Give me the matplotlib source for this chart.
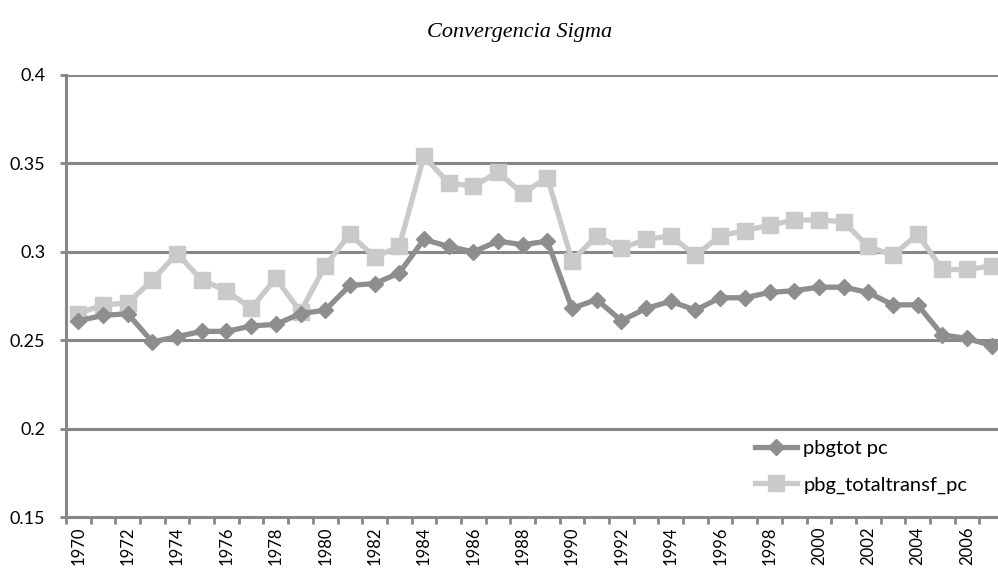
import numpy as np
import matplotlib.pyplot as plt

# data
years = np.arange(1970, 2008)
pbgtot_pc = [0.261, 0.264, 0.265, 0.249, 0.252, 0.255, 0.255, 0.258, 0.259, 0.265,
             0.267, 0.281, 0.282, 0.288, 0.307, 0.303, 0.300, 0.306, 0.304, 0.306,
             0.268, 0.273, 0.261, 0.268, 0.272, 0.267, 0.274, 0.274, 0.277, 0.278,
             0.280, 0.280, 0.277, 0.270, 0.270, 0.253, 0.251, 0.247]
pbg_totaltransf_pc = [0.265, 0.270, 0.271, 0.284, 0.299, 0.284, 0.278, 0.268, 0.285, 0.266,
                      0.292, 0.310, 0.297, 0.303, 0.354, 0.339, 0.337, 0.345, 0.333, 0.342,
                      0.295, 0.309, 0.302, 0.307, 0.309, 0.298, 0.309, 0.312, 0.315, 0.318,
                      0.318, 0.317, 0.303, 0.298, 0.310, 0.290, 0.290, 0.292]
yticks = [0.15, 0.2, 0.25, 0.3, 0.35, 0.4]
ytick_labels = ['0.15', '0.2', '0.25', '0.3', '0.35', '0.4']

dark = '#8e8e90'
light = '#c9cacc'
grid_col = '#878787'

fig = plt.figure(figsize=(9.98, 5.75), dpi=100)
# plot area runs a bit past the right edge of the picture, like the original
ax = fig.add_axes([66/998, 1 - 517/575, 938/998, 442/575])

ax.plot(years, pbgtot_pc, color=dark, lw=3.8, marker='D', ms=8.5,
        label='pbgtot pc', zorder=4)
ax.plot(years, pbg_totaltransf_pc, color=light, lw=3.8, marker='s', ms=11,
        label='pbg_totaltransf_pc', zorder=3)

ax.set_xlim(1969.5, 2007.5)
ax.set_ylim(0.15, 0.4)
ax.set_yticks(yticks)
ax.set_yticklabels(ytick_labels, fontsize=13, family='Lato')
for y in yticks[1:]:
    ax.axhline(y, color=grid_col, lw=2.2, zorder=1)

ax.set_xticks(years[::2])
ax.set_xticklabels([str(y) for y in years[::2]], rotation=90, fontsize=12,
                   family='Lato')
ax.set_xticks(np.arange(1969.5, 2008, 1), minor=True)
ax.tick_params(axis='x', which='major', length=0, pad=7)
ax.tick_params(axis='x', which='minor', length=5, width=2, color=grid_col, direction='out')
ax.tick_params(axis='y', length=4, width=2, color=grid_col, direction='out', pad=11)

for s in ['top', 'right']:
    ax.spines[s].set_visible(False)
for s in ['left', 'bottom']:
    ax.spines[s].set_color(grid_col)
    ax.spines[s].set_linewidth(2.2)

fig.text(520/998, 1 - 32/575, 'Convergencia Sigma', ha='center', va='center',
         fontsize=16, style='italic', family='Liberation Serif')

ax.legend(loc='upper left', bbox_to_anchor=(755/998, 1 - 440/575),
          bbox_transform=fig.transFigure, frameon=False, borderpad=0,
          borderaxespad=0, prop={'family': 'Lato', 'size': 14.5},
          handlelength=2.1, handletextpad=0.3, labelspacing=0.95)

fig.savefig('out.png', dpi=100)
